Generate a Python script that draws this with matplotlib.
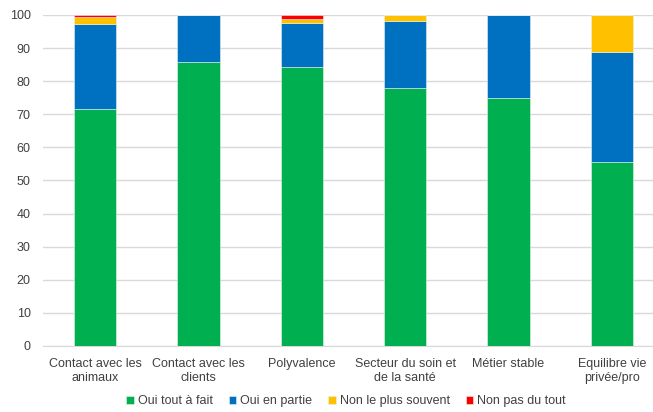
import matplotlib
matplotlib.use("Agg")
import matplotlib.pyplot as plt
import numpy as np

plt.rcParams['font.family'] = ['Liberation Sans', 'DejaVu Sans']

categories = ["Contact avec les\nanimaux", "Contact avec les\nclients", "Polyvalence",
              "Secteur du soin et\nde la santé", "Métier stable", "Equilibre vie\nprivée/pro"]
series_names = ["Oui tout à fait", "Oui en partie", "Non le plus souvent", "Non pas du tout"]
oui_tout = [71.6, 85.7, 84.3, 78.0, 74.9, 55.5]
oui_partie = [25.7, 14.3, 13.4, 20.1, 25.1, 33.3]
non_souvent = [2.2, 0.0, 1.0, 1.9, 0.0, 11.2]
non_pas = [0.5, 0.0, 1.3, 0.0, 0.0, 0.0]
colors = ["#00B050", "#0070C0", "#FFC000", "#FF0000"]
yticks = [0, 10, 20, 30, 40, 50, 60, 70, 80, 90, 100]

fig = plt.figure(figsize=(6.53, 4.12), dpi=100)
ax = fig.add_axes([0.0663, 0.1602, 0.950, 0.8034])

x = np.arange(len(categories))
bottom = np.zeros(len(categories))
for name, vals, c in zip(series_names, [oui_tout, oui_partie, non_souvent, non_pas], colors):
    v = np.array(vals)
    ax.bar(x, v, 0.41, bottom=bottom, color=c, label=name, zorder=3,
           edgecolor="#e8f4ea", linewidth=0.4)
    bottom += v

ax.set_xlim(-0.5, len(categories) - 0.5)
ax.set_ylim(0, 100)
ax.set_yticks(yticks)
ax.set_xticks(x)
ax.set_xticklabels(categories)
ax.tick_params(axis='both', length=0, labelsize=9, colors="#404040")
ax.tick_params(axis='x', pad=8.5)
ax.tick_params(axis='y', pad=9)
ax.yaxis.grid(True, color="#d9d9d9", linewidth=1, zorder=0)
ax.set_axisbelow(True)
for s in ['top', 'right', 'left']:
    ax.spines[s].set_visible(False)
ax.spines['bottom'].set_color("#d9d9d9")

leg = fig.legend(loc='center', bbox_to_anchor=(0.53, 0.026), ncol=4, frameon=False,
                 fontsize=9, handlelength=0.6, handleheight=0.6, handletextpad=0.3,
                 columnspacing=1.3)
for t in leg.get_texts():
    t.set_color("#404040")

fig.savefig("out.png", dpi=100)
